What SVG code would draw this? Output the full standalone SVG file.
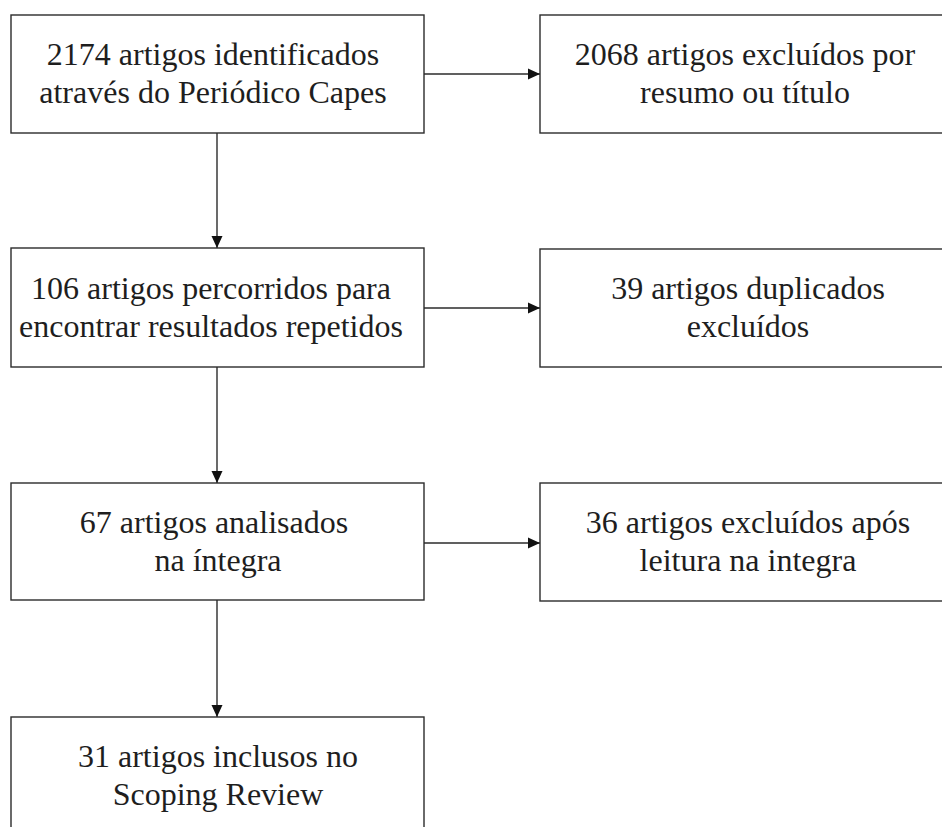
<svg xmlns="http://www.w3.org/2000/svg" width="942" height="827" viewBox="0 0 942 827">
<defs>
<style>
.box{fill:#fff;stroke:#2b2b2b;stroke-width:1.4}
.t{font-family:'Liberation Serif','Times New Roman',serif;font-size:32px;fill:#1e1e1e;text-anchor:middle}
.c{stroke:#2b2b2b;stroke-width:1.4;fill:none}
</style>
<marker id="ah" markerWidth="14" markerHeight="14" refX="12" refY="7" orient="auto" markerUnits="userSpaceOnUse">
<path d="M0,1.5 L12,7 L0,12.5 Z" fill="#111"/>
</marker>
</defs>
<rect width="942" height="827" fill="#fff"/>
<g id="connectors">
<line class="c" x1="424" y1="74" x2="540" y2="74" marker-end="url(#ah)"/>
<line class="c" x1="424" y1="308" x2="540" y2="308" marker-end="url(#ah)"/>
<line class="c" x1="424" y1="543" x2="540" y2="543" marker-end="url(#ah)"/>
<line class="c" x1="217" y1="133" x2="217" y2="248" marker-end="url(#ah)"/>
<line class="c" x1="217" y1="367" x2="217" y2="483" marker-end="url(#ah)"/>
<line class="c" x1="217" y1="600" x2="217" y2="717" marker-end="url(#ah)"/>
</g>
<g id="n1">
<rect class="box" x="11" y="15" width="413" height="118"/>
<text class="t" x="213" y="65">2174 artigos identificados</text>
<text class="t" x="213" y="103">através do Periódico Capes</text>
</g>
<g id="n2">
<rect class="box" x="540" y="15" width="413" height="118"/>
<text class="t" x="745" y="65">2068 artigos excluídos por</text>
<text class="t" x="745" y="103">resumo ou título</text>
</g>
<g id="n3">
<rect class="box" x="11" y="248" width="413" height="119"/>
<text class="t" x="211" y="299">106 artigos percorridos para</text>
<text class="t" x="211" y="337">encontrar resultados repetidos</text>
</g>
<g id="n4">
<rect class="box" x="540" y="249" width="413" height="118"/>
<text class="t" x="748" y="299">39 artigos duplicados</text>
<text class="t" x="748" y="337">excluídos</text>
</g>
<g id="n5">
<rect class="box" x="11" y="483" width="413" height="117"/>
<text class="t" x="214" y="533">67 artigos analisados</text>
<text class="t" x="218" y="571">na íntegra</text>
</g>
<g id="n6">
<rect class="box" x="540" y="483" width="413" height="118"/>
<text class="t" x="748" y="533">36 artigos excluídos após</text>
<text class="t" x="748" y="571">leitura na integra</text>
</g>
<g id="n7">
<rect class="box" x="11" y="717" width="413" height="118"/>
<text class="t" x="218" y="767">31 artigos inclusos no</text>
<text class="t" x="218" y="805">Scoping Review</text>
</g>
</svg>
